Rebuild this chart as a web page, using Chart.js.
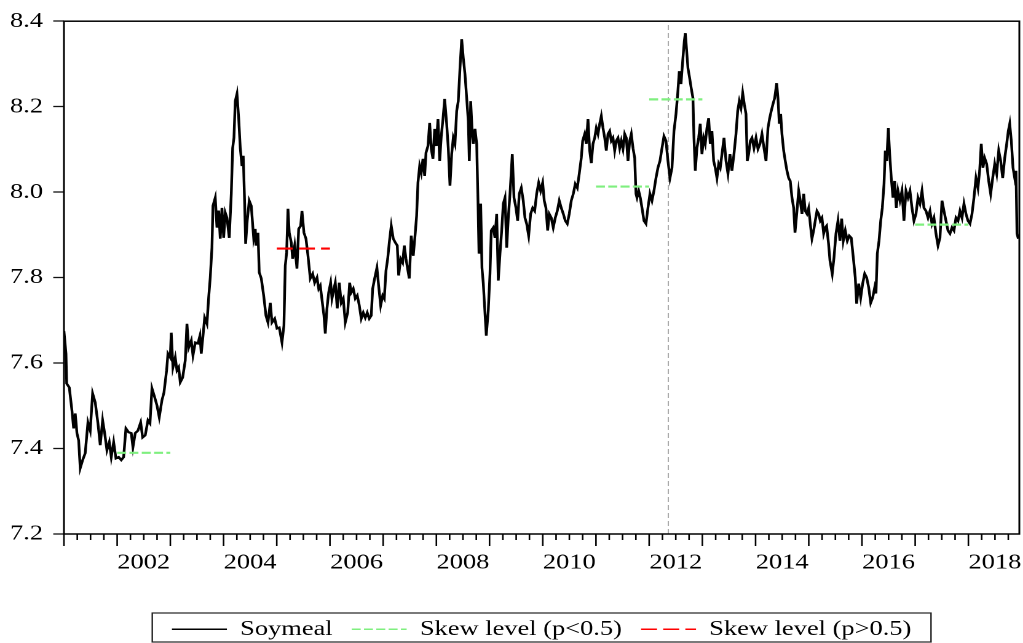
<!DOCTYPE html>
<html>
<head>
<meta charset="utf-8">
<script src="https://cdn.jsdelivr.net/npm/chart.js@4.4.0/dist/chart.umd.min.js"></script>
<style>
  html, body { margin: 0; padding: 0; background: #fff; overflow: hidden; }
  /* the reference is stretched horizontally, so draw narrow and widen */
  #chart { transform: scaleX(1.2296); transform-origin: 0 0; }
</style>
</head>
<body>
<canvas id="chart" width="832" height="643"></canvas>
<script>
// log soymeal price, [decimal year, value]
const soymeal = [
  [2001.000,7.675],[2001.038,7.622],[2001.051,7.552],[2001.100,7.543],[2001.150,7.489],[2001.182,7.447],[2001.212,7.482],[2001.244,7.436],
  [2001.276,7.419],[2001.306,7.354],[2001.352,7.373],[2001.400,7.389],[2001.451,7.461],[2001.494,7.442],[2001.539,7.529],[2001.588,7.508],
  [2001.639,7.459],[2001.682,7.408],[2001.727,7.466],[2001.765,7.436],[2001.808,7.396],[2001.852,7.415],[2001.889,7.380],[2001.934,7.415],
  [2001.977,7.377],[2002.028,7.380],[2002.077,7.373],[2002.122,7.380],[2002.165,7.447],[2002.216,7.438],[2002.265,7.436],[2002.297,7.403],
  [2002.340,7.436],[2002.391,7.442],[2002.442,7.461],[2002.479,7.426],[2002.528,7.431],[2002.579,7.466],[2002.617,7.459],[2002.654,7.541],
  [2002.705,7.520],[2002.748,7.501],[2002.791,7.473],[2002.842,7.513],[2002.880,7.531],[2002.930,7.583],[2002.955,7.622],[2002.998,7.613],
  [2003.017,7.671],[2003.049,7.590],[2003.092,7.613],[2003.124,7.583],[2003.156,7.590],[2003.186,7.555],[2003.231,7.566],[2003.280,7.606],
  [2003.312,7.692],[2003.344,7.636],[2003.393,7.653],[2003.425,7.618],[2003.468,7.648],[2003.519,7.646],[2003.556,7.664],[2003.581,7.622],
  [2003.618,7.669],[2003.645,7.706],[2003.688,7.692],[2003.720,7.753],[2003.750,7.800],[2003.782,7.870],[2003.801,7.968],[2003.844,7.987],
  [2003.876,7.917],[2003.908,7.957],[2003.938,7.891],[2003.970,7.963],[2004.002,7.893],[2004.032,7.952],[2004.064,7.940],[2004.107,7.893],
  [2004.145,7.996],[2004.171,8.103],[2004.195,8.127],[2004.220,8.213],[2004.252,8.230],[2004.284,8.173],[2004.314,8.103],[2004.346,8.061],
  [2004.370,8.085],[2004.397,7.973],[2004.415,7.879],[2004.445,7.933],[2004.483,7.980],[2004.521,7.968],[2004.566,7.893],[2004.596,7.914],
  [2004.609,7.875],[2004.647,7.905],[2004.671,7.812],[2004.709,7.798],[2004.754,7.758],[2004.797,7.711],[2004.835,7.695],[2004.878,7.741],
  [2004.910,7.695],[2004.961,7.704],[2005.004,7.681],[2005.047,7.683],[2005.098,7.648],[2005.135,7.688],[2005.160,7.828],[2005.186,7.858],
  [2005.211,7.961],[2005.235,7.905],[2005.273,7.882],[2005.299,7.844],[2005.337,7.875],[2005.380,7.821],[2005.412,7.914],[2005.449,7.921],
  [2005.474,7.956],[2005.511,7.905],[2005.549,7.891],[2005.587,7.851],[2005.630,7.798],[2005.675,7.809],[2005.712,7.788],[2005.756,7.800],
  [2005.788,7.774],[2005.818,7.781],[2005.863,7.735],[2005.887,7.711],[2005.912,7.669],[2005.944,7.728],[2005.976,7.765],[2006.013,7.788],
  [2006.038,7.751],[2006.075,7.774],[2006.100,7.788],[2006.137,7.728],[2006.175,7.788],[2006.212,7.741],[2006.250,7.751],[2006.288,7.695],
  [2006.333,7.718],[2006.370,7.788],[2006.400,7.765],[2006.438,7.774],[2006.476,7.751],[2006.513,7.758],[2006.551,7.735],[2006.588,7.704],
  [2006.626,7.718],[2006.664,7.706],[2006.701,7.718],[2006.739,7.704],[2006.776,7.711],[2006.803,7.774],[2006.840,7.798],[2006.883,7.823],
  [2006.915,7.781],[2006.953,7.735],[2006.991,7.758],[2007.021,7.751],[2007.053,7.816],[2007.085,7.844],[2007.115,7.882],[2007.152,7.921],
  [2007.190,7.891],[2007.228,7.882],[2007.265,7.875],[2007.291,7.805],[2007.329,7.844],[2007.366,7.835],[2007.397,7.875],[2007.429,7.844],
  [2007.466,7.816],[2007.491,7.798],[2007.528,7.898],[2007.566,7.851],[2007.604,7.905],[2007.629,7.945],[2007.654,8.022],[2007.686,8.061],
  [2007.716,8.045],[2007.748,8.078],[2007.780,8.038],[2007.805,8.092],[2007.842,8.108],[2007.874,8.162],[2007.904,8.101],[2007.936,8.078],
  [2007.968,8.148],[2007.998,8.108],[2008.030,8.171],[2008.062,8.073],[2008.092,8.131],[2008.124,8.171],[2008.156,8.218],[2008.194,8.160],
  [2008.224,8.103],[2008.256,8.015],[2008.288,8.089],[2008.318,8.127],[2008.350,8.113],[2008.382,8.190],[2008.412,8.213],[2008.444,8.290],
  [2008.476,8.358],[2008.506,8.314],[2008.538,8.276],[2008.570,8.220],[2008.600,8.166],[2008.619,8.073],[2008.645,8.213],[2008.675,8.136],
  [2008.694,8.113],[2008.726,8.148],[2008.758,8.113],[2008.782,7.980],[2008.801,7.856],[2008.833,7.973],[2008.857,7.823],[2008.882,7.786],
  [2008.914,7.716],[2008.938,7.664],[2008.976,7.723],[2009.008,7.809],[2009.032,7.910],[2009.070,7.917],[2009.102,7.893],[2009.134,7.949],
  [2009.164,7.793],[2009.196,7.856],[2009.228,7.910],[2009.258,7.973],[2009.290,7.987],[2009.322,7.870],[2009.352,7.940],[2009.384,7.996],
  [2009.427,8.089],[2009.459,7.987],[2009.496,7.963],[2009.528,7.933],[2009.558,7.996],[2009.596,8.010],[2009.633,7.980],[2009.665,7.940],
  [2009.697,7.926],[2009.735,7.898],[2009.772,7.949],[2009.810,7.963],[2009.848,7.956],[2009.885,7.996],[2009.923,8.022],[2009.960,8.003],
  [2009.998,8.022],[2010.028,7.980],[2010.060,7.963],[2010.092,7.910],[2010.122,7.949],[2010.160,7.940],[2010.197,7.917],[2010.235,7.940],
  [2010.273,7.956],[2010.310,7.980],[2010.348,7.963],[2010.386,7.949],[2010.423,7.933],[2010.461,7.926],[2010.498,7.949],[2010.536,7.980],
  [2010.574,7.996],[2010.611,8.019],[2010.649,8.010],[2010.686,8.043],[2010.724,8.080],[2010.750,8.120],[2010.788,8.136],[2010.818,8.113],
  [2010.850,8.171],[2010.882,8.097],[2010.912,8.068],[2010.944,8.113],[2010.976,8.127],[2011.006,8.150],[2011.038,8.136],[2011.070,8.160],
  [2011.100,8.178],[2011.132,8.150],[2011.164,8.127],[2011.194,8.097],[2011.226,8.136],[2011.258,8.143],[2011.288,8.120],[2011.320,8.127],
  [2011.352,8.097],[2011.382,8.120],[2011.414,8.127],[2011.446,8.103],[2011.476,8.120],[2011.508,8.101],[2011.540,8.136],[2011.570,8.127],
  [2011.602,8.073],[2011.634,8.120],[2011.664,8.136],[2011.696,8.103],[2011.728,8.080],[2011.752,7.996],[2011.771,7.987],[2011.803,8.003],
  [2011.833,7.987],[2011.865,7.963],[2011.902,7.933],[2011.940,7.926],[2011.977,7.963],[2012.015,7.996],[2012.053,7.980],[2012.090,8.003],
  [2012.128,8.033],[2012.165,8.057],[2012.203,8.073],[2012.241,8.103],[2012.278,8.131],[2012.316,8.120],[2012.353,8.073],[2012.391,8.033],
  [2012.429,8.057],[2012.466,8.143],[2012.504,8.183],[2012.536,8.230],[2012.566,8.283],[2012.598,8.253],[2012.630,8.307],[2012.660,8.353],
  [2012.679,8.372],[2012.705,8.330],[2012.729,8.290],[2012.761,8.267],[2012.791,8.243],[2012.823,8.220],[2012.842,8.127],[2012.867,8.050],
  [2012.898,8.103],[2012.930,8.127],[2012.960,8.160],[2012.992,8.089],[2013.024,8.127],[2013.054,8.113],[2013.086,8.150],[2013.118,8.173],
  [2013.148,8.113],[2013.180,8.143],[2013.212,8.073],[2013.242,8.057],[2013.274,8.033],[2013.306,8.066],[2013.336,8.057],[2013.368,8.089],
  [2013.406,8.127],[2013.444,8.073],[2013.481,8.043],[2013.519,8.089],[2013.556,8.050],[2013.594,8.089],[2013.632,8.136],[2013.664,8.190],
  [2013.694,8.213],[2013.726,8.197],[2013.758,8.232],[2013.788,8.206],[2013.820,8.183],[2013.844,8.073],[2013.870,8.089],[2013.901,8.120],
  [2013.932,8.127],[2013.970,8.103],[2014.008,8.127],[2014.045,8.101],[2014.083,8.113],[2014.120,8.136],[2014.158,8.103],[2014.196,8.073],
  [2014.233,8.150],[2014.265,8.173],[2014.295,8.190],[2014.327,8.206],[2014.359,8.220],[2014.397,8.255],[2014.421,8.220],[2014.446,8.160],
  [2014.472,8.183],[2014.496,8.136],[2014.528,8.097],[2014.558,8.073],[2014.590,8.050],[2014.622,8.033],[2014.652,8.026],[2014.684,7.987],
  [2014.716,7.963],[2014.741,7.905],[2014.773,7.949],[2014.810,8.003],[2014.840,7.980],[2014.872,7.949],[2014.904,7.996],[2014.934,7.956],
  [2014.966,7.949],[2014.998,7.963],[2015.028,7.926],[2015.060,7.891],[2015.092,7.910],[2015.122,7.933],[2015.154,7.956],[2015.186,7.949],
  [2015.216,7.933],[2015.248,7.940],[2015.280,7.903],[2015.310,7.917],[2015.335,7.921],[2015.372,7.879],[2015.398,7.840],[2015.441,7.809],
  [2015.474,7.847],[2015.511,7.903],[2015.549,7.933],[2015.586,7.886],[2015.618,7.938],[2015.648,7.886],[2015.686,7.910],[2015.724,7.886],
  [2015.761,7.898],[2015.799,7.893],[2015.837,7.847],[2015.874,7.800],[2015.900,7.739],[2015.938,7.786],[2015.976,7.753],[2016.013,7.786],
  [2016.051,7.809],[2016.088,7.800],[2016.126,7.777],[2016.164,7.741],[2016.201,7.753],[2016.239,7.777],[2016.263,7.763],[2016.288,7.856],
  [2016.320,7.886],[2016.352,7.933],[2016.382,7.963],[2016.414,8.019],[2016.438,8.097],[2016.465,8.073],[2016.495,8.150],[2016.521,8.089],
  [2016.551,8.033],[2016.583,7.987],[2016.615,8.026],[2016.645,7.963],[2016.677,8.003],[2016.714,7.980],[2016.752,8.003],[2016.789,7.933],
  [2016.827,8.003],[2016.865,7.987],[2016.902,8.003],[2016.940,7.963],[2016.977,7.933],[2017.015,7.949],[2017.053,7.987],[2017.090,7.973],
  [2017.128,8.003],[2017.165,7.963],[2017.203,7.956],[2017.241,7.940],[2017.278,7.956],[2017.316,7.926],[2017.353,7.940],[2017.391,7.903],
  [2017.429,7.875],[2017.466,7.893],[2017.504,7.980],[2017.541,7.956],[2017.579,7.933],[2017.617,7.910],[2017.654,7.903],[2017.692,7.917],
  [2017.729,7.910],[2017.767,7.940],[2017.805,7.933],[2017.842,7.956],[2017.880,7.940],[2017.917,7.973],[2017.955,7.949],[2017.992,7.933],
  [2018.030,7.926],[2018.068,7.949],[2018.105,7.987],[2018.143,8.033],[2018.180,8.010],[2018.212,8.050],[2018.242,8.113],[2018.274,8.057],
  [2018.306,8.080],[2018.344,8.066],[2018.382,8.026],[2018.419,7.996],[2018.457,8.033],[2018.495,8.066],[2018.532,8.043],[2018.570,8.097],
  [2018.607,8.073],[2018.645,8.033],[2018.683,8.080],[2018.720,8.113],[2018.750,8.143],[2018.777,8.160],[2018.807,8.120],[2018.839,8.057],
  [2018.871,8.033],[2018.895,8.050],[2018.914,7.903],[2018.939,7.891]
];

// skew levels: one-year windows
const skewLowStart = [2002, 2011, 2012, 2017];
const skewLowEnd   = [2003, 2012, 2013, 2018];
const skewLowLevel = [7.390, 8.013, 8.217, 7.924];
const skewHighStart = [2005];
const skewHighEnd   = [2006];
const skewHighLevel = [7.868];

const breakYear = 2012.36;
const xMin = 2001, xMax = 2018.958;
const yTicks = [7.2, 7.4, 7.6, 7.8, 8.0, 8.2, 8.4];
const xLabelYears = [2002, 2004, 2006, 2008, 2010, 2012, 2014, 2016, 2018];

const FONT = "'Liberation Serif', 'Times New Roman', serif";

function segments(starts, ends, levels) {
  return starts.flatMap((s, i) => [
    {x: s, y: levels[i]}, {x: ends[i], y: levels[i]}, {x: ends[i], y: null}
  ]);
}

const quarterTicks = [];
for (let yr = xMin; yr < xMax; yr++) {
  for (let q = 0; q < 4; q++) {
    if (yr + q * 0.25 < xMax) quarterTicks.push(yr + q * 0.25);
  }
}

const decor = {
  id: 'decor',
  afterDraw(chart) {
    const ctx = chart.ctx;
    const a = chart.chartArea;
    ctx.save();
    ctx.setLineDash([]);
    // frame round the plot
    ctx.strokeStyle = '#000';
    ctx.lineWidth = 1.5;
    ctx.strokeRect(a.left, a.top, a.right - a.left, a.bottom - a.top);
    // year ticks hang lower than quarter ticks
    ctx.lineWidth = 1.3;
    ctx.beginPath();
    for (const v of quarterTicks) {
      const px = a.left + (v - xMin) / (xMax - xMin) * (a.right - a.left);
      const len = (Math.abs(v - Math.round(v)) < 1e-6) ? 12 : 6;
      ctx.moveTo(px, a.bottom);
      ctx.lineTo(px, a.bottom + len);
    }
    ctx.stroke();
    // box round the legend
    const boxes = chart.legend.legendHitBoxes;
    if (boxes.length) {
      const first = boxes[0], last = boxes[boxes.length - 1];
      const left = first.left - 16;
      const right = last.left + last.width + 16;
      ctx.strokeStyle = '#222';
      ctx.lineWidth = 1.2;
      ctx.strokeRect(left, 613, right - left, 29);
    }
    ctx.restore();
  }
};

new Chart(document.getElementById('chart'), {
  type: 'line',
  data: {
    datasets: [{
      label: 'Soymeal',
      data: soymeal.map(([x, y]) => ({x, y})),
      borderColor: '#000',
      borderWidth: 2.2,
      pointRadius: 0,
      tension: 0,
      order: 3
    }, {
      label: 'Skew level (p<0.5)',
      data: segments(skewLowStart, skewLowEnd, skewLowLevel),
      borderColor: '#7fef7f',
      borderWidth: 2.2,
      borderDash: [7.3, 2.7],
      pointRadius: 0,
      spanGaps: false,
      order: 1
    }, {
      label: 'Skew level (p>0.5)',
      data: segments(skewHighStart, skewHighEnd, skewHighLevel),
      borderColor: '#ff0000',
      borderWidth: 2.2,
      borderDash: [13, 5],
      pointRadius: 0,
      spanGaps: false,
      order: 2
    }, {
      label: 'break',
      data: [{x: breakYear, y: yTicks[0]}, {x: breakYear, y: yTicks[yTicks.length - 1]}],
      borderColor: '#aaaaaa',
      borderWidth: 1,
      borderDash: [5, 3],
      pointRadius: 0,
      order: 4
    }]
  },
  options: {
    responsive: false,
    devicePixelRatio: 2,
    animation: false,
    layout: { padding: { top: 20, right: 3, left: 0, bottom: 0 } },
    plugins: {
      tooltip: { enabled: false },
      legend: {
        position: 'bottom',
        fullSize: false,
        maxHeight: 40,
        labels: {
          usePointStyle: true,
          pointStyle: 'line',
          pointStyleWidth: 44.7,
          padding: 15.5,
          color: '#000',
          font: { family: FONT, size: 21.5 },
          generateLabels: chart => Chart.defaults.plugins.legend.labels.generateLabels(chart)
            .filter(item => item.text !== 'break')
            .map(item => {
              const ds = chart.data.datasets[item.datasetIndex];
              item.lineDash = ds.borderDash || [];
              item.lineWidth = 1.6;
              item.strokeStyle = ds.borderColor;
              item.fillStyle = ds.borderColor;
              item.pointStyle = 'line';
              return item;
            })
            .sort((a, b) => a.datasetIndex - b.datasetIndex)
        }
      }
    },
    scales: {
      x: {
        type: 'linear',
        min: xMin,
        max: xMax,
        afterBuildTicks: scale => { scale.ticks = quarterTicks.map(v => ({value: v})); },
        afterFit: scale => { scale.height = 69; },
        border: { display: false },
        grid: {
          drawOnChartArea: false,
          drawTicks: true,
          tickLength: 11.5,
          tickWidth: 1,
          tickColor: 'rgba(0,0,0,0)'
        },
        ticks: {
          autoSkip: false,
          maxRotation: 0,
          padding: 4.5,
          color: '#000',
          font: { family: FONT, size: 21.5 },
          callback: v => (xLabelYears.includes(v - 0.5) ? String(v - 0.5) : '')
        }
      },
      y: {
        min: yTicks[0],
        max: yTicks[yTicks.length - 1],
        afterBuildTicks: scale => { scale.ticks = yTicks.map(v => ({value: v})); },
        afterFit: scale => { scale.width = 52; },
        border: { display: false },
        grid: { drawOnChartArea: false, tickLength: 8.7, tickWidth: 1.3, tickColor: '#111' },
        ticks: {
          padding: 8.3,
          color: '#000',
          font: { family: FONT, size: 21.5 },
          callback: v => Number(v).toFixed(1)
        }
      }
    }
  },
  plugins: [decor]
});
</script>
</body>
</html>
